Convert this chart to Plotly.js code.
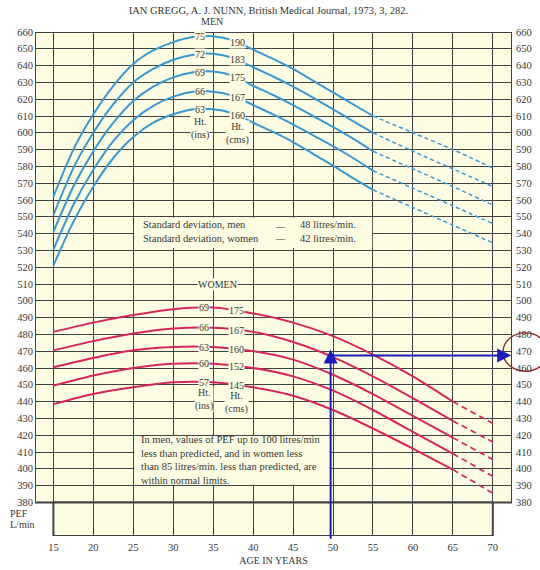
<!DOCTYPE html>
<html><head><meta charset="utf-8">
<script src="https://cdn.plot.ly/plotly-3.0.1.min.js"></script>
<style>html,body{margin:0;padding:0;background:#fff}#chart{width:540px;height:570px}</style>
</head><body><div id="chart"></div>
<script>
// ---------- DATA ----------
const menAges        = [15,17.5,20,22.5,25,27.5,30,32.5,35,37.5,40,42.5,45,47.5,50,52.5,55];
const menAgesExtrap  = [55,60,65,70];
const men190 = [562,590,611,628,641,649,654,657,657.5,655,649.5,644,638,631,624,617,610];
const men183 = [551,579,600,617,630,638,643.5,646.5,647,644.5,639,633.5,627.5,621,614,607,600];
const men175 = [541,568,589,606,619,627.5,633,636,636.5,634,628,622.5,616.5,610,603.5,596.5,589];
const men167 = [530.5,557,578,595,607.5,616,621.5,624.5,624.5,622,616.5,611,605,598.5,592,585,577.5];
const men160 = [521,547,568,585,597.5,606,611,614,614,611.5,606,600.5,594.5,587.5,580.5,573,566];
const men190Extrap = [610,600,590,579];
const men183Extrap = [600,589,578.5,568];
const men175Extrap = [589,578.5,568,557];
const men167Extrap = [577.5,567,556.5,546];
const men160Extrap = [566,555.5,545,534.5];

const womenAges       = [15,20,25,30,35,40,45,50,55,60,65];
const womenAgesExtrap = [65,70];
const women175 = [481.5,487,491.5,495,496,492.5,487,479,468,455,440];
const women167 = [470.5,476,480.5,483.5,484,481.5,475.5,466.5,455,442,428.5];
const women160 = [460.5,466,470.5,472.5,472.5,470,465,456,444.5,431.5,418.5];
const women152 = [449.5,455.5,460,462.5,462.5,460,455,446.5,435,422,409];
const women145 = [438.5,444.5,448.5,451.5,451.5,448.5,443.5,435,424,412,399.5];
const women175Extrap = [440,427];
const women167Extrap = [428.5,416];
const women160Extrap = [418.5,405.5];
const women152Extrap = [409,395.5];
const women145Extrap = [399.5,385.5];

const menHeightIns   = ['75','72','69','66','63'];
const menHeightCm    = ['190','183','175','167','160'];
const womenHeightIns = ['69','66','63','60','57'];
const womenHeightCm  = ['175','167','160','152','145'];

const ageTicks = [15,20,25,30,35,40,45,50,55,60,65,70];
const pefTicks = [380,390,400,410,420,430,440,450,460,470,480,490,500,510,520,530,540,550,560,570,580,590,600,610,620,630,640,650,660];

const exampleAge = 49.7;     // worked example: woman aged ~50
const examplePEF = 467.5;    // read-off PEF (circled 470)

const sdLabels = ['Standard deviation, men', 'Standard deviation, women'];
const sdValues = ['48 litres/min.', '42 litres/min.'];
const noteLines = ['In men, values of PEF up to 100 litres/min',
                   'less than predicted, and in women less',
                   'than 85 litres/min. less than predicted, are',
                   'within normal limits.'];

// ---------- STYLE ----------
const BG = '#fdfde3', GRID = '#424242', BLUE = '#3a97cf', RED = '#d4285a', TXT = '#363636';
const SERIF = 'Liberation Serif, Times New Roman, serif';

function seg(x, y, color, dash, width, yaxis){
  return {type:'scatter', mode:'lines', x:x, y:y, yaxis:yaxis||'y', hoverinfo:'skip', showlegend:false,
          line:{color:color, width:width, dash:dash, shape:'spline', smoothing:0.7}};
}
const menSolid  = [men190, men183, men175, men167, men160];
const menDash   = [men190Extrap, men183Extrap, men175Extrap, men167Extrap, men160Extrap];
const womSolid  = [women175, women167, women160, women152, women145];
const womDash   = [women175Extrap, women167Extrap, women160Extrap, women152Extrap, women145Extrap];

const traces = [];
menSolid.forEach(v => traces.push(seg(menAges, v, BLUE, 'solid', 2)));
menDash.forEach(v => traces.push(seg(menAgesExtrap, v, BLUE, '4px,3px', 1.5)));
womSolid.forEach(v => traces.push(seg(womenAges, v, RED, 'solid', 2)));
// extrapolated women's lines are plotted against the right-hand PEF scale (identical range)
womDash.forEach(v => traces.push(seg(womenAgesExtrap, v, RED, '6px,4px', 1.7, 'y2')));

function valAt(xs, ys, a){
  for (let i = 0; i < xs.length - 1; i++){
    if (a >= xs[i] && a <= xs[i+1]) return ys[i] + (ys[i+1]-ys[i])*(a-xs[i])/(xs[i+1]-xs[i]);
  }
  return ys[ys.length-1];
}

const ann = [];
function label(x, y, text, size){
  ann.push({x:x, y:y, xref:'x', yref:'y', text:text, showarrow:false, bgcolor:BG, borderpad:0,
            font:{family:SERIF, size:size||10, color:TXT}});
}
menSolid.forEach((v,i) => { label(33.3, valAt(menAges, v, 33.3), menHeightIns[i]);
                            label(38.0, valAt(menAges, v, 38.0), menHeightCm[i]); });
womSolid.forEach((v,i) => { label(33.8, valAt(womenAges, v, 33.8), womenHeightIns[i]);
                            label(37.9, valAt(womenAges, v, 37.9), womenHeightCm[i]); });
label(33.3, 602.4, 'Ht.<br>(ins)');
label(38.0, 599.4, 'Ht.<br>(cms)');
label(33.8, 441.0, 'Ht.<br>(ins)');
label(37.9, 439.4, 'Ht.<br>(cms)');
label(35.6, 509.5, 'WOMEN');
ann.push({x:34.85, y:1.02, xref:'x', yref:'paper', yanchor:'middle', text:'MEN', showarrow:false,
          font:{family:SERIF, size:10, color:TXT}});

// SD box text (three aligned columns)
ann.push({x:26.0, y:541.0, xref:'x', yref:'y', xanchor:'left', align:'left', text:sdLabels.join('<br>'), showarrow:false,
          font:{family:SERIF, size:10.5, color:TXT}});
ann.push({x:43.4, y:541.0, xref:'x', yref:'y', xanchor:'center', text:'\u2014<br>\u2014', showarrow:false,
          font:{family:SERIF, size:9, color:TXT}});
ann.push({x:45.6, y:541.0, xref:'x', yref:'y', xanchor:'left', align:'left', text:sdValues.join('<br>'), showarrow:false,
          font:{family:SERIF, size:10.5, color:TXT}});
// note box text
ann.push({x:25.75, y:405.0, xref:'x', yref:'y', xanchor:'left', align:'left', text:noteLines.join('<br>'), showarrow:false,
          font:{family:SERIF, size:10.5, color:TXT}});
// PEF L/min
ann.push({x:-0.057, y:373.6, xref:'paper', yref:'y', xanchor:'left', yanchor:'middle', text:'PEF', showarrow:false, font:{family:SERIF, size:10, color:TXT}});
ann.push({x:-0.057, y:367.0, xref:'paper', yref:'y', xanchor:'left', yanchor:'middle', text:'L/min', showarrow:false, font:{family:SERIF, size:10, color:TXT}});
// worked-example arrows
ann.push({x:exampleAge, y:examplePEF + 3.5, ax:exampleAge, ay:357.5, xref:'x', yref:'y', axref:'x', ayref:'y',
          text:'', showarrow:true, arrowhead:2, arrowsize:1.4, arrowwidth:2, arrowcolor:'#1c1cbd', standoff:0, startstandoff:0});
ann.push({x:72.3, y:examplePEF, ax:exampleAge, ay:examplePEF, xref:'x', yref:'y', axref:'x', ayref:'y',
          text:'', showarrow:true, arrowhead:2, arrowsize:1.4, arrowwidth:2, arrowcolor:'#1c1cbd', standoff:0, startstandoff:0});

const shapes = [
  {type:'rect', layer:'below', xref:'x', yref:'y', x0:12.7, x1:72.4, y0:380, y1:660, fillcolor:BG, line:{color:GRID, width:2}},
  {type:'rect', layer:'below', xref:'x', yref:'y', x0:15, x1:70, y0:360, y1:380, fillcolor:BG, line:{color:GRID, width:2}},
  {type:'rect', layer:'above', xref:'x', yref:'y', x0:25.12, x1:54.9, y0:531.5, y1:549.5, fillcolor:BG, line:{width:0}},
  {type:'rect', layer:'above', xref:'x', yref:'y', x0:25.12, x1:49.6, y0:390.5, y1:419.5, fillcolor:BG, line:{width:0}},
  {type:'circle', layer:'above', xref:'paper', yref:'paper', x0:0.981, x1:1.075, y0:0.327, y1:0.403, line:{color:'#8e2525', width:1.4}}
];

const tickFont = {family:SERIF, size:10.5, color:TXT};
const layout = {
  width:540, height:570,
  margin:{l:35, r:28, t:32, b:34, pad:0},
  paper_bgcolor:'#ffffff', plot_bgcolor:'rgba(0,0,0,0)',
  showlegend:false,
  title:{text:'IAN GREGG, A. J. NUNN, British Medical Journal, 1973, 3, 282.', x:0.497, xref:'container', xanchor:'center',
         y:0.982, yref:'container', yanchor:'middle', font:{family:SERIF, size:10.5, color:'#333'}},
  xaxis:{range:[12.7,72.4], tickvals:ageTicks, showgrid:true, gridcolor:GRID, gridwidth:1, zeroline:false, showline:false,
         ticks:'', tickfont:tickFont, fixedrange:true, ticklabelstandoff:3,
         title:{text:'AGE IN YEARS', font:{family:SERIF, size:10, color:TXT}, standoff:5}},
  yaxis:{range:[360,660], tickvals:pefTicks, showgrid:true, gridcolor:GRID, gridwidth:1, zeroline:false, showline:false,
         ticks:'', tickfont:tickFont, fixedrange:true, ticklabelstandoff:1},
  yaxis2:{range:[360,660], overlaying:'y', side:'right', tickvals:pefTicks, showgrid:false, zeroline:false, showline:false,
          ticks:'', tickfont:tickFont, fixedrange:true, ticklabelstandoff:3},
  shapes:shapes,
  annotations:ann
};
Plotly.newPlot('chart', traces, layout, {staticPlot:true, displayModeBar:false});
</script></body></html>
